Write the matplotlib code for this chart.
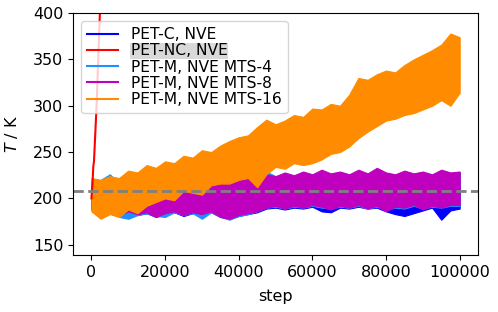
import numpy as np
import matplotlib
matplotlib.use("Agg")
import matplotlib.pyplot as plt
from matplotlib.lines import Line2D

# ---- data ----
steps = np.arange(0, 100001, 2500)

labels = ["PET-C, NVE", "PET-NC, NVE", "PET-M, NVE MTS-4",
          "PET-M, NVE MTS-8", "PET-M, NVE MTS-16"]
colors = ["#0000ff", "#ff0000", "#1e90ff", "#bf00bf", "#ff8c00"]

# PET-NC, NVE (runs away quickly)
nc_steps = [0, 300, 500, 700, 1400, 2300, 3000]
nc_T = [200, 216, 234, 240, 300, 400, 460]

# PET-C, NVE  (upper / lower envelope of the fluctuating trace)
c_upper = [214, 213, 216, 214, 215, 213, 216, 214, 215, 216, 214, 217, 215, 216,
           218, 217, 220, 222, 220, 224, 223, 226, 224, 227, 225, 229, 226, 228,
           225, 229, 226, 231, 227, 225, 228, 226, 228, 225, 229, 227, 228]
c_lower = [188, 183, 185, 181, 184, 182, 184, 180, 183, 185, 181, 184, 182, 185,
           180, 178, 181, 183, 185, 189, 190, 188, 190, 189, 191, 186, 185, 190,
           189, 191, 189, 190, 186, 183, 181, 184, 187, 190, 177, 187, 189]

# PET-M, NVE MTS-4
m4_upper = [218, 220, 226, 216, 218, 215, 219, 216, 217, 219, 216, 220, 217, 219,
            221, 220, 224, 228, 231, 229, 224, 226, 224, 227, 225, 229, 226, 227,
            225, 229, 226, 230, 226, 225, 228, 226, 227, 225, 229, 226, 227]
m4_lower = [189, 183, 185, 180, 178, 182, 184, 181, 180, 185, 182, 184, 178, 185,
            180, 177, 181, 183, 186, 190, 191, 189, 191, 190, 192, 190, 189, 191,
            190, 192, 189, 191, 188, 190, 189, 192, 189, 191, 190, 192, 192]

# PET-M, NVE MTS-8
m8_upper = [216, 214, 218, 215, 217, 214, 218, 215, 216, 218, 215, 219, 216, 218,
            220, 219, 222, 224, 221, 226, 224, 228, 225, 229, 226, 231, 227, 229,
            226, 231, 227, 233, 228, 226, 230, 227, 229, 226, 231, 228, 229]
m8_lower = [190, 184, 186, 182, 186, 183, 185, 180, 184, 186, 182, 185, 183, 186,
            180, 178, 182, 184, 186, 190, 192, 189, 192, 190, 193, 191, 188, 192,
            190, 193, 189, 192, 186, 191, 190, 193, 188, 192, 190, 193, 193]

# PET-M, NVE MTS-16
m16_upper = [222, 220, 224, 222, 230, 228, 236, 233, 240, 238, 246, 244, 252, 250,
             257, 262, 266, 268, 277, 285, 280, 284, 290, 288, 297, 296, 302, 300,
             312, 330, 328, 334, 338, 336, 344, 350, 355, 360, 366, 378, 374]
m16_lower = [186, 178, 183, 180, 188, 184, 192, 196, 200, 198, 208, 206, 204, 214,
             216, 216, 220, 222, 212, 226, 234, 232, 238, 236, 238, 242, 248, 250,
             256, 265, 272, 278, 284, 286, 290, 292, 296, 300, 306, 300, 314]

T_ref = 208.5

# ---- figure ----
plt.rcParams["font.family"] = ["DejaVu Sans"]
plt.rcParams["font.size"] = 11.5
fig = plt.figure(figsize=(4.98, 3.12), dpi=100)
ax = fig.add_axes([0.1466, 0.183, 0.8134, 0.775])

ax.fill_between(steps, c_lower, c_upper, color=colors[0], lw=0.8)
ax.plot(nc_steps, nc_T, color=colors[1], lw=1.5)
ax.fill_between(steps, m4_lower, m4_upper, color=colors[2], lw=0.8)
ax.fill_between(steps, m8_lower, m8_upper, color=colors[3], lw=0.8)
ax.fill_between(steps, m16_lower, m16_upper, color=colors[4], lw=0.8)

ax.axhline(T_ref, color="grey", ls="--", lw=2)

ax.set_xlim(-5000, 105000)
ax.set_ylim(139, 400)
ax.set_yticks([150, 200, 250, 300, 350, 400])
ax.set_xticks([0, 20000, 40000, 60000, 80000, 100000])
ax.set_xlabel("step", labelpad=7)
ax.set_ylabel(r"$T$ / K", labelpad=9)

handles = [Line2D([], [], color=c, lw=1.5) for c in colors]
leg = ax.legend(handles, labels, loc="upper left", fontsize=11.2,
                handlelength=2.0, labelspacing=0.08, borderpad=0.4,
                handletextpad=0.8, borderaxespad=0.5)
leg.get_texts()[1].set_bbox(dict(facecolor="#d9d9d9", edgecolor="none", pad=0.5))

fig.savefig("out.png", dpi=100)
